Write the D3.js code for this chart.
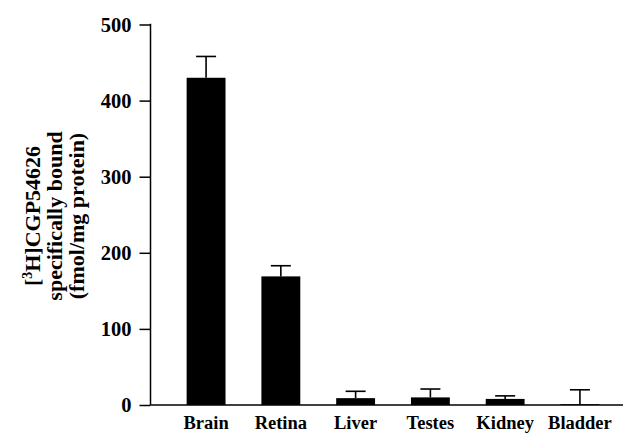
<!DOCTYPE html>
<html><head><meta charset="utf-8">
<script src="https://cdn.jsdelivr.net/npm/d3@7"></script>
<style>body{margin:0;background:#fff}svg{display:block}text{font-family:"Liberation Serif","Times New Roman",serif;font-weight:bold;fill:#000}</style>
</head><body><svg id="c" width="623" height="434"></svg>
<script>
const categories = ["Brain","Retina","Liver","Testes","Kidney","Bladder"];
const means = [430,169,9,10,8,1];
const errors = [28,14,9,11,4,19];
const yTicks = [0,100,200,300,400,500];

const svg = d3.select("#c");
const x0 = 150.5, yBase = 405;
const y = d3.scaleLinear().domain([0,500]).range([yBase,24.5]);
const x = d3.scaleBand().domain(categories).range([150,636]).paddingInner(0.48).paddingOuter(0.49);

// bars
svg.selectAll("rect.bar").data(categories).enter().append("rect")
  .attr("x", d=>x(d)).attr("width", x.bandwidth())
  .attr("y", (d,i)=>y(means[i])).attr("height",(d,i)=>yBase-y(means[i]))
  .attr("fill","#000");

// error bars
const eb = svg.selectAll("g.eb").data(categories).enter().append("g");
eb.append("line").attr("x1",d=>x(d)+x.bandwidth()/2).attr("x2",d=>x(d)+x.bandwidth()/2)
  .attr("y1",(d,i)=>y(means[i])).attr("y2",(d,i)=>y(means[i]+errors[i]))
  .attr("stroke","#000").attr("stroke-width",1.6);
eb.append("line").attr("x1",d=>x(d)+x.bandwidth()/2-10).attr("x2",d=>x(d)+x.bandwidth()/2+10)
  .attr("y1",(d,i)=>y(means[i]+errors[i])).attr("y2",(d,i)=>y(means[i]+errors[i]))
  .attr("stroke","#000").attr("stroke-width",1.6);

// y axis
const yAxis = d3.axisLeft(y).tickValues(yTicks).tickSize(11).tickPadding(8).tickFormat(d3.format("d"));
const gy = svg.append("g").attr("transform",`translate(${x0},0)`).call(yAxis);
gy.select(".domain").remove();
gy.selectAll(".tick line").attr("stroke","#000").attr("stroke-width",1.5);
gy.selectAll(".tick text").style("font-size","20.5px").style("font-family",'"Liberation Serif",serif').style("font-weight","bold").attr("fill","#000");
svg.append("line").attr("x1",x0).attr("x2",x0).attr("y1",y(500)-0.75).attr("y2",yBase).attr("stroke","#000").attr("stroke-width",1.5);

// x axis
svg.append("line").attr("x1",x0).attr("x2",623).attr("y1",yBase).attr("y2",yBase).attr("stroke","#000").attr("stroke-width",1.5);
svg.selectAll("text.xl").data(categories).enter().append("text")
  .attr("x",d=>x(d)+x.bandwidth()/2).attr("y",429).attr("text-anchor","middle")
  .style("font-size","18.5px").text(d=>d);

// y title
const tg = svg.append("g").attr("transform","translate(0,216) rotate(-90)");
const t1 = tg.append("text").attr("x",0).attr("y",40).attr("text-anchor","middle").style("font-size","22px");
t1.append("tspan").text("[");
t1.append("tspan").attr("dy",-8).style("font-size","14px").text("3");
t1.append("tspan").attr("dy",8).text("H]CGP54626");
tg.append("text").attr("x",0).attr("y",62).attr("text-anchor","middle").style("font-size","22px").text("specifically bound");
tg.append("text").attr("x",0).attr("y",84).attr("text-anchor","middle").style("font-size","22px").text("(fmol/mg protein)");
</script></body></html>
